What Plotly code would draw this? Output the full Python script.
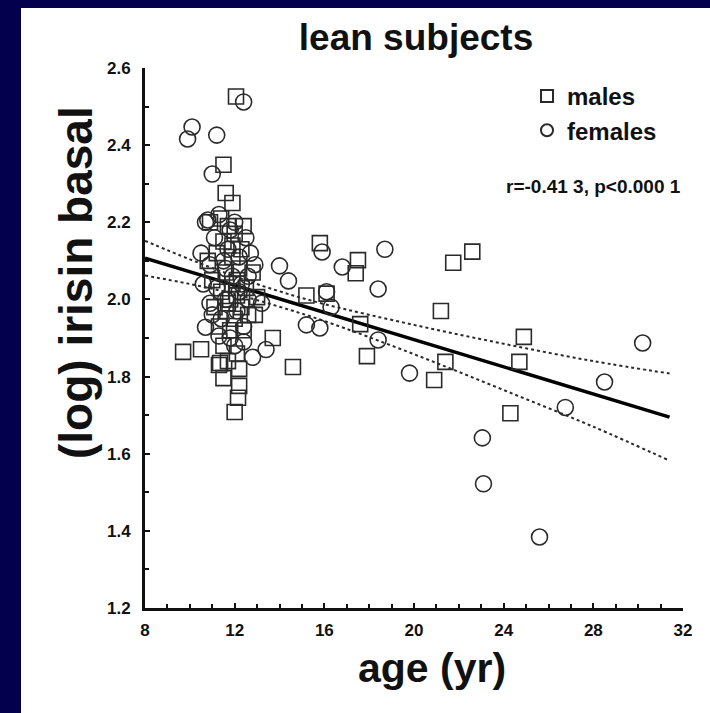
import plotly.graph_objects as go

# --- data ---
male_age = [9.7, 10.5, 12.06, 11.5, 11.6, 11.9, 15.8, 11.35, 11.5, 12.2, 12.15, 12.0,
            13.7, 14.6, 15.2, 16.1, 17.5, 17.4, 21.75, 22.6, 21.2, 17.6, 17.9, 20.9,
            21.4, 24.9, 24.7, 24.3, 12.4, 13.0, 12.9,
            10.8, 11.0, 11.1, 11.2, 11.3, 11.4, 11.4, 11.5, 11.5, 11.6, 11.6, 11.7,
            11.7, 11.8, 11.8, 11.9, 11.9, 12.0, 12.0, 12.1, 12.1, 12.2, 12.3, 12.3,
            12.4, 12.5, 12.6, 12.8, 11.3, 12.2, 10.9, 11.9, 12.1, 11.7]
male_irisin = [1.864, 1.871, 2.526, 2.349, 2.276, 2.250, 2.146, 1.835, 1.796, 1.776, 1.745, 1.708,
               1.900, 1.825, 2.010, 2.015, 2.102, 2.068, 2.095, 2.124, 1.970, 1.936, 1.853, 1.791,
               1.838, 1.903, 1.838, 1.705, 2.190, 2.006, 1.960,
               2.10, 2.05, 1.98, 2.12, 1.93, 2.21, 2.02, 1.88, 2.15, 1.97, 2.07, 1.84,
               2.19, 2.00, 1.92, 2.11, 2.04, 1.95, 2.17, 1.86, 2.01, 2.08, 1.98, 2.13,
               1.92, 2.03, 1.96, 2.07, 1.83, 1.82, 2.20, 2.14, 2.05, 1.99]

female_age = [12.4, 10.1, 9.9, 11.2, 11.0, 10.8, 10.9, 10.7, 11.3, 12.4, 12.8, 13.4,
              14.0, 14.4, 15.2, 15.8, 15.9, 16.8, 18.7, 18.4, 16.1, 16.3, 18.4, 19.8,
              30.2, 28.5, 26.75, 23.05, 23.1, 25.6,
              10.5, 10.6, 10.7, 10.9, 11.0, 11.1, 11.2, 11.3, 11.4, 11.5, 11.6, 11.7,
              11.8, 11.9, 12.0, 12.1, 12.2, 12.3, 12.4, 12.5, 12.6, 12.7, 12.9, 12.0,
              11.8, 13.2, 12.6, 11.6, 12.2]
female_irisin = [2.512, 2.447, 2.416, 2.426, 2.325, 2.206, 1.990, 1.928, 1.905, 1.890, 1.850, 1.870,
                 2.087, 2.048, 1.934, 1.926, 2.123, 2.084, 2.130, 2.027, 2.020, 1.980, 1.895, 1.809,
                 1.887, 1.786, 1.720, 1.641, 1.522, 1.384,
                 2.12, 2.04, 2.20, 2.09, 1.96, 2.16, 2.03, 2.22, 1.95, 2.10, 2.00, 2.13,
                 1.90, 2.06, 2.20, 1.97, 2.11, 2.04, 1.93, 2.16, 2.00, 2.12, 2.09, 1.88,
                 2.18, 1.99, 2.06, 2.08, 2.02]

fit_age = [8, 31.4]
fit_irisin = [2.107, 1.695]

ci_age = [8, 10, 12, 14, 16, 20, 24, 28, 31.4]
ci_upper = [2.152, 2.104, 2.060, 2.021, 1.988, 1.934, 1.885, 1.840, 1.808]
ci_lower = [2.062, 2.040, 2.014, 1.981, 1.944, 1.858, 1.765, 1.670, 1.582]

W, H = 710, 713
L, R, T, B = 145, 27, 68, 105
NAVY = '#03004e'
INK = '#2a2a2a'
ARIAL = 'Liberation Sans, Arial'
TICKFONT = dict(family=ARIAL, size=17, color='#111', weight='bold')

fig = go.Figure()

for ci in (ci_upper, ci_lower):
    fig.add_trace(go.Scatter(
        x=ci_age, y=ci, mode='lines',
        line=dict(color=INK, width=2, dash='3px,3px', shape='spline'),
        showlegend=False, hoverinfo='skip'))
fig.add_trace(go.Scatter(
    x=fit_age, y=fit_irisin, mode='lines', line=dict(color='#000', width=3.5),
    showlegend=False, hoverinfo='skip'))

fig.add_trace(go.Scatter(
    x=male_age, y=male_irisin, mode='markers', name='males',
    marker=dict(symbol='square-open', size=15, color=INK, line=dict(width=1.6, color=INK)),
))
fig.add_trace(go.Scatter(
    x=female_age, y=female_irisin, mode='markers', name='females',
    marker=dict(symbol='circle-open', size=16, color=INK, line=dict(width=1.6, color=INK)),
))

pw, ph = W - L - R, H - T - B
px = lambda v: (v - L) / pw
py = lambda v: (H - B - v) / ph

# navy frame on the left and top edges
fig.add_shape(type='rect', xref='paper', yref='paper', layer='above',
              x0=px(-5), x1=px(21), y0=py(H + 5), y1=py(-5), fillcolor=NAVY, line_width=0)
fig.add_shape(type='rect', xref='paper', yref='paper', layer='above',
              x0=px(-5), x1=px(W + 5), y0=py(8), y1=py(-5), fillcolor=NAVY, line_width=0)

fig.add_annotation(
    text='r=-0.41 3, p<0.000 1', xref='paper', yref='paper',
    x=px(683), y=py(186), xanchor='right', yanchor='middle', showarrow=False,
    font=dict(family=ARIAL, size=19, color='#111', weight='bold'))

# axis titles as annotations to place them like the original
fig.add_annotation(
    text='(log) irisin basal', xref='paper', yref='paper', textangle=-90,
    x=px(76), y=py(283), xanchor='center', yanchor='middle', showarrow=False,
    font=dict(family=ARIAL, size=46, color='#111', weight='bold'))
fig.add_annotation(
    text='age (yr)', xref='paper', yref='paper',
    x=px(432), y=py(668), xanchor='center', yanchor='middle', showarrow=False,
    font=dict(family=ARIAL, size=41, color='#111', weight='bold'))

fig.update_layout(
    width=W, height=H,
    margin=dict(l=L, r=R, t=T, b=B),
    paper_bgcolor='white', plot_bgcolor='white',
    title=dict(text='lean subjects', xref='paper', x=px(416), xanchor='center',
               yref='container', y=1 - 37 / H, yanchor='middle',
               font=dict(family=ARIAL, size=37, color='#111', weight='bold')),
    showlegend=True,
    legend=dict(x=px(527), y=py(74), xanchor='left', yanchor='top', bgcolor='rgba(0,0,0,0)',
                font=dict(family=ARIAL, size=24, color='#111', weight='bold'),
                itemsizing='constant', tracegroupgap=0),
)

fig.update_xaxes(
    range=[8, 32], tickvals=[8, 12, 16, 20, 24, 28, 32],
    showline=True, linewidth=3, linecolor='#111',
    ticks='inside', ticklen=5, tickwidth=2, tickcolor='#111',
    minor=dict(dtick=1, ticks='inside', ticklen=4, tickwidth=2, tickcolor='#111'),
    showgrid=False, zeroline=False, tickfont=TICKFONT, ticklabelstandoff=5,
)
fig.update_yaxes(
    range=[1.2, 2.6], tickvals=[1.2, 1.4, 1.6, 1.8, 2.0, 2.2, 2.4, 2.6],
    ticktext=['1.2', '1.4', '1.6', '1.8', '2.0', '2.2', '2.4', '2.6'],
    showline=True, linewidth=3, linecolor='#111',
    ticks='inside', ticklen=5, tickwidth=2, tickcolor='#111',
    minor=dict(dtick=0.1, ticks='inside', ticklen=4, tickwidth=2, tickcolor='#111'),
    showgrid=False, zeroline=False, tickfont=TICKFONT, ticklabelstandoff=8,
)

fig.write_html('out.html', config={'displayModeBar': False},
               post_script="document.body.style.margin='0';document.body.style.overflow='hidden';")
